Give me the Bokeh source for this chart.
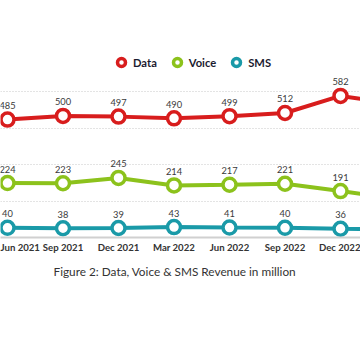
from bokeh.plotting import figure
from bokeh.models import Range1d, FixedTicker, Legend, LegendItem, ColumnDataSource, Title
from bokeh.core.properties import value
from bokeh.embed import file_html
from bokeh.resources import INLINE

quarters = ["Jun 2021", "Sep 2021", "Dec 2021", "Mar 2022", "Jun 2022", "Sep 2022", "Dec 2022", "Mar 2023"]
data_rev = [485, 500, 497, 490, 499, 512, 582, 550]
voice_rev = [224, 223, 245, 214, 217, 221, 191, 160]
sms_rev = [40, 38, 39, 43, 41, 40, 36, 34]
grid_values = [0, 150, 300, 450, 600]
title_text = "Figure 2: Data, Voice & SMS Revenue in million"
labelled_points = 7  # the last quarter's labels fall outside the visible crop

xs = list(range(len(quarters)))

p = figure(width=360, height=339, output_backend="svg", toolbar_location=None,
           x_range=Range1d(-0.126, 6.36), y_range=Range1d(0, 810),
           min_border_left=0, min_border_right=0, min_border_top=40, min_border_bottom=102)
p.outline_line_color = None
p.background_fill_color = "white"
p.border_fill_color = "white"
p.yaxis.visible = False
p.xgrid.visible = False
p.ygrid.ticker = FixedTicker(ticks=grid_values)
p.ygrid.grid_line_color = "#c8c8c8"
p.ygrid.grid_line_dash = "1 2"
p.ygrid.grid_line_width = 1

ax = p.xaxis[0]
ax.ticker = FixedTicker(ticks=xs)
ax.major_label_overrides = {i: q for i, q in enumerate(quarters)}
ax.major_tick_line_color = None
ax.major_tick_out = 0
ax.major_tick_in = 0
ax.minor_tick_line_color = None
ax.minor_tick_out = 0
ax.axis_line_color = "#d0d0d0"
ax.axis_line_width = 2
ax.major_label_text_font = "Lato"
ax.major_label_text_font_style = "bold"
ax.major_label_text_font_size = "9.6px"
ax.major_label_text_color = "#333333"
ax.major_label_standoff = 4

p.add_layout(Title(text=title_text, align="left", offset=53, standoff=12,
                   text_font="Lato", text_font_style="normal", text_font_size="11.8px",
                   text_color="#333333"), "below")

series = [("Data", data_rev, "#d81d1d"), ("Voice", voice_rev, "#8cc21c"), ("SMS", sms_rev, "#1a9aa8")]
items = []
for name, vals, col in series:
    src = ColumnDataSource(dict(x=xs, y=vals))
    lab = ColumnDataSource(dict(x=xs[:labelled_points], y=vals[:labelled_points],
                                t=[str(v) for v in vals[:labelled_points]]))
    p.line("x", "y", source=src, line_color=col, line_width=4)
    r = p.scatter("x", "y", source=src, size=13, fill_color="white", line_color=col, line_width=3.5)
    p.text("x", "y", text="t", source=lab, text_align="center", text_baseline="middle",
           y_offset=-14, text_font=value("Lato"), text_font_size="9.3px", text_color="#3a3a3a")
    items.append(LegendItem(label=name, renderers=[r]))

legend = Legend(items=items, orientation="horizontal", location=(111, 164),
                border_line_color=None, background_fill_alpha=0,
                label_text_font="Lato", label_text_font_style="bold", label_text_font_size="11.2px",
                label_text_color="#1b1b2f", glyph_width=20, glyph_height=22, label_standoff=2,
                spacing=10, padding=0, margin=0)
p.add_layout(legend, "center")

open("out.html", "w").write(file_html(p, INLINE))
